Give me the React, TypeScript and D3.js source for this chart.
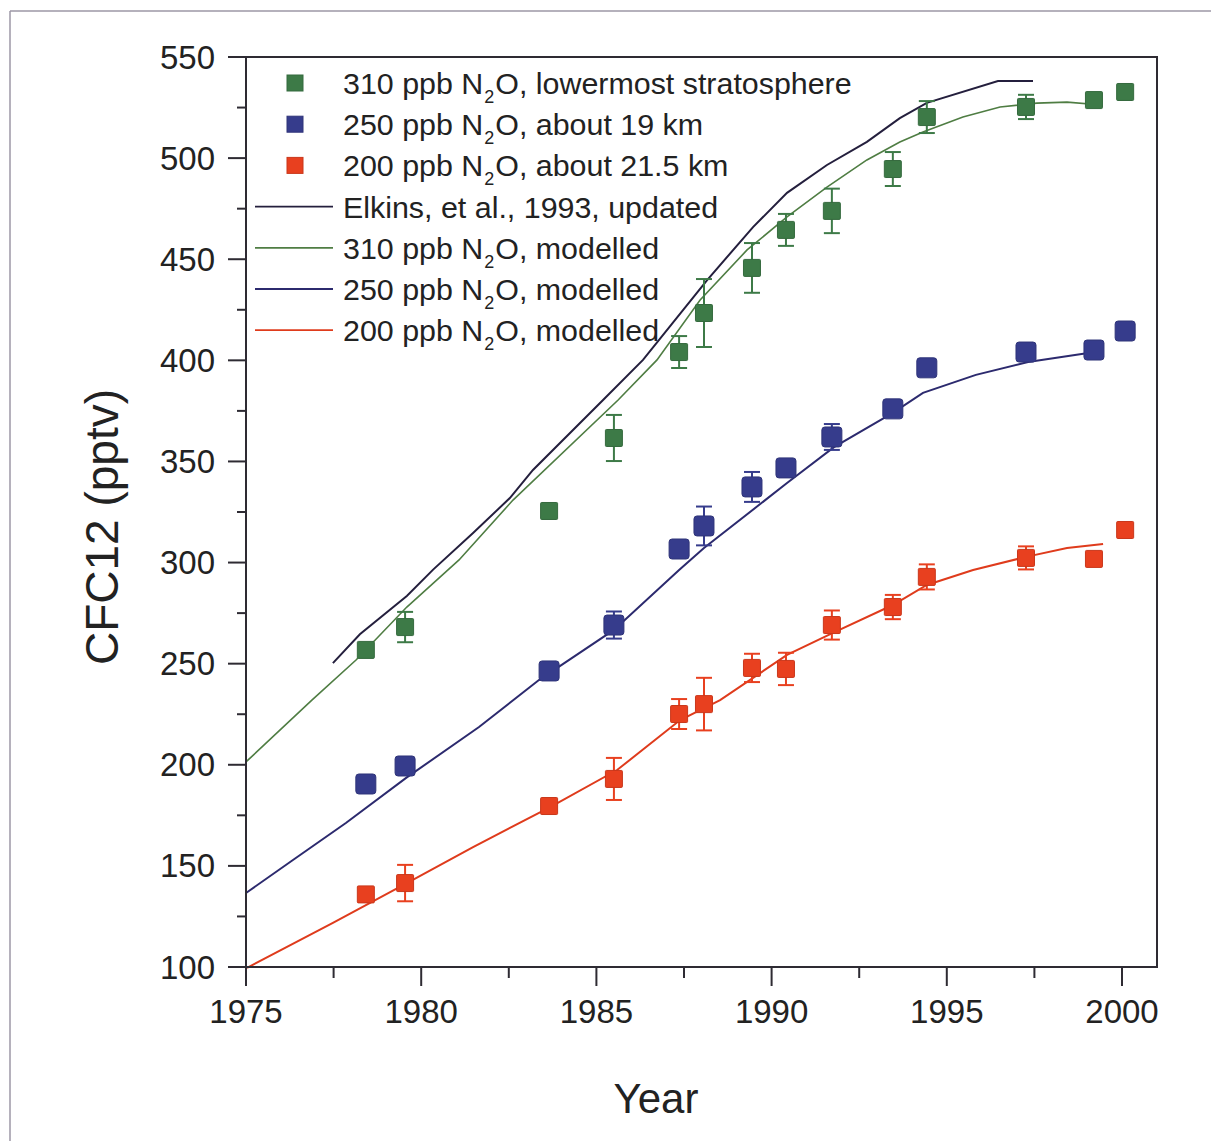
import React from 'react';
import * as d3 from 'd3';

// measured points (year, pptv, error)
const obsYears = [1978.42, 1979.54, 1983.65, 1985.5, 1987.36, 1988.07, 1989.44, 1990.41, 1991.72, 1993.46, 1994.43, 1997.26, 1999.2, 2000.09];
const green310 = [256.8, 268.1, 325.5, 361.6, 404.1, 423.4, 445.7, 464.5, 473.9, 494.6, 520.3, 525.3, 528.7, 532.7];
const green310Err = [0, 7.5, 0, 11.4, 7.9, 16.8, 12.3, 7.9, 11, 8.4, 7.9, 6, 0, 0];
const blue250 = [190.5, 199.4, 246.4, 269.1, 306.7, 318.1, 337.4, 346.8, 362.1, 376.0, 396.3, 404.1, 405.1, 414.5];
const blue250Err = [0, 0, 0, 6.7, 0, 9.6, 7.4, 0, 6.4, 0, 0, 0, 0, 0];
const red200 = [135.9, 141.5, 179.6, 193.0, 225.1, 230.0, 247.9, 247.4, 269.1, 278.0, 292.9, 302.3, 301.8, 316.1];
const red200Err = [0, 9, 0, 10.4, 7.4, 13, 7, 8, 7.2, 6, 6.2, 5.7, 0, 0];

// model / reference curves
const elkinsYears = [1977.48, 1978.25, 1979.59, 1980.34, 1981.48, 1982.53, 1983.19, 1985.19, 1986.33, 1988.16, 1989.47, 1990.44, 1991.58, 1992.72, 1993.66, 1994.43, 1996.46, 1997.46];
const elkinsVals = [250.3, 264.5, 283.5, 296.5, 314.6, 331.9, 345.8, 380.4, 400.2, 439.7, 465.9, 482.8, 496.6, 508.0, 519.8, 527.3, 538.1, 538.1];
const mod310Years = [1975.0, 1976.88, 1978.14, 1979.59, 1981.08, 1982.62, 1985.62, 1986.73, 1987.96, 1989.3, 1990.44, 1991.58, 1992.72, 1993.66, 1994.32, 1995.46, 1996.52, 1997.57, 1998.43, 1999.43];
const mod310Vals = [201.4, 232.0, 251.8, 278.0, 301.3, 330.9, 380.4, 400.2, 429.8, 454.6, 470.9, 485.7, 499.1, 508.0, 512.9, 520.3, 525.3, 527.2, 527.7, 526.3];
const mod250Years = [1975, 1976.34, 1977.85, 1979.57, 1981.65, 1983.36, 1985.5, 1987.36, 1988.07, 1990.44, 1991.78, 1993.46, 1994.32, 1995.83, 1997.32, 1999.23];
const mod250Vals = [136.6, 152.9, 171.2, 193.5, 218.7, 241.9, 266.7, 296.3, 307.2, 339.3, 357.1, 374.0, 383.9, 392.8, 399.2, 404.1];
const mod200Years = [1975.03, 1977.48, 1979.59, 1981.48, 1983.68, 1985.59, 1987.39, 1988.53, 1990.44, 1991.75, 1993.46, 1994.43, 1995.75, 1997.26, 1998.43, 1999.46];
const mod200Vals = [99.6, 121.8, 141.5, 159.3, 179.1, 197.4, 222.1, 232.0, 254.3, 265.2, 279.0, 288.9, 296.3, 302.8, 307.2, 309.2];

const yTicks = [100, 150, 200, 250, 300, 350, 400, 450, 500, 550];
const yMinor = [125, 175, 225, 275, 325, 375, 425, 475, 525];
const xTicks = [1975, 1980, 1985, 1990, 1995, 2000];
const xMinor = [1977.5, 1982.5, 1987.5, 1992.5, 1997.5];

const legendItems = [
  { kind: 'sq', color: '#3d7a47', pre: '310 ppb N', post: 'O, lowermost stratosphere' },
  { kind: 'sq', color: '#363c8c', pre: '250 ppb N', post: 'O, about 19 km' },
  { kind: 'sq', color: '#e8401f', pre: '200 ppb N', post: 'O, about 21.5 km' },
  { kind: 'ln', color: '#241f3d', pre: 'Elkins, et al., 1993, updated', post: '' },
  { kind: 'ln', color: '#4f7d43', pre: '310 ppb N', post: 'O, modelled' },
  { kind: 'ln', color: '#2c2a6e', pre: '250 ppb N', post: 'O, modelled' },
  { kind: 'ln', color: '#df3b1c', pre: '200 ppb N', post: 'O, modelled' },
];

const W = 1211, H = 1141;
const m = { left: 246, top: 57, right: 1157, bottom: 967 };
const font = '"Liberation Sans", Arial, Helvetica, sans-serif';
const axisCol = '#2e2b33';

const x = d3.scaleLinear().domain([1975, 2001]).range([m.left, m.right + 0.04]);
const y = d3.scaleLinear().domain([100, 550]).range([m.bottom, m.top]);

const mkLine = (xs: number[], vs: number[]) =>
  d3.line<number>().x((_, i) => x(xs[i])).y(d => y(d))(vs) || '';

const Series = ({ vals, errs, color, size, rx }: { vals: number[]; errs: number[]; color: string; size: number; rx: number }) => (
  <g>
    {vals.map((v, i) => {
      const cx = x(obsYears[i]);
      const cy = y(v);
      const e = errs[i];
      return (
        <g key={i}>
          {e > 0 && (
            <g stroke={color} strokeWidth={2}>
              <line x1={cx} x2={cx} y1={y(v - e)} y2={y(v + e)} />
              <line x1={cx - 8} x2={cx + 8} y1={y(v - e)} y2={y(v - e)} />
              <line x1={cx - 8} x2={cx + 8} y1={y(v + e)} y2={y(v + e)} />
            </g>
          )}
          <rect x={cx - size / 2} y={cy - size / 2} width={size} height={size} rx={rx}
            fill={color} stroke={d3.color(color)!.darker(0.4).toString()} strokeWidth={1} />
        </g>
      );
    })}
  </g>
);

export default function App() {
  return (
    <svg width={W} height={H} style={{ position: 'absolute', left: 0, top: 0, background: '#fff' }} fontFamily={font}>
      {/* outer page border */}
      <line x1={10} x2={W} y1={11} y2={11} stroke="#9c97a6" strokeWidth={1.5} />
      <line x1={10} x2={10} y1={11} y2={H} stroke="#9c97a6" strokeWidth={1.5} />

      {/* curves */}
      <path d={mkLine(mod200Years, mod200Vals)} fill="none" stroke="#df3b1c" strokeWidth={2} />
      <path d={mkLine(mod250Years, mod250Vals)} fill="none" stroke="#2c2a6e" strokeWidth={2} />
      <path d={mkLine(mod310Years, mod310Vals)} fill="none" stroke="#4f7d43" strokeWidth={1.6} />
      <path d={mkLine(elkinsYears, elkinsVals)} fill="none" stroke="#241f3d" strokeWidth={2} />

      <Series vals={red200} errs={red200Err} color="#e8401f" size={17} rx={1} />
      <Series vals={blue250} errs={blue250Err} color="#363c8c" size={20} rx={3} />
      <Series vals={green310} errs={green310Err} color="#3d7a47" size={17} rx={1} />

      {/* frame */}
      <rect x={m.left} y={m.top} width={m.right - m.left} height={m.bottom - m.top} fill="none" stroke={axisCol} strokeWidth={2} />

      {/* y axis */}
      {yTicks.map(t => (
        <g key={t}>
          <line x1={228} x2={m.left} y1={y(t)} y2={y(t)} stroke={axisCol} strokeWidth={2} />
          <text x={215} y={y(t)} dy="0.35em" textAnchor="end" fontSize={33} fill="#222">{t}</text>
        </g>
      ))}
      {yMinor.map(t => (
        <line key={t} x1={237} x2={m.left} y1={y(t)} y2={y(t)} stroke={axisCol} strokeWidth={2} />
      ))}

      {/* x axis */}
      {xTicks.map(t => (
        <g key={t}>
          <line x1={x(t)} x2={x(t)} y1={m.bottom} y2={986} stroke={axisCol} strokeWidth={2} />
          <text x={x(t)} y={1023} textAnchor="middle" fontSize={33} fill="#222">{t}</text>
        </g>
      ))}
      {xMinor.map(t => (
        <line key={t} x1={x(t)} x2={x(t)} y1={m.bottom} y2={978} stroke={axisCol} strokeWidth={2} />
      ))}

      <text x={656} y={1113} textAnchor="middle" fontSize={42} fill="#222">Year</text>
      <text transform="translate(118,527) rotate(-90)" textAnchor="middle" fontSize={46} fill="#222">CFC12 (pptv)</text>

      {/* legend */}
      {legendItems.map((it, i) => {
        const cy = 83 + i * 41.2;
        return (
          <g key={i}>
            {it.kind === 'sq'
              ? <rect x={287} y={cy - 8} width={16} height={16} fill={it.color} stroke={d3.color(it.color)!.darker(0.4).toString()} strokeWidth={1} />
              : <line x1={255} x2={333} y1={cy} y2={cy} stroke={it.color} strokeWidth={1.8} />}
            <text x={343} y={cy + 11} fontSize={30.4} fill="#222">
              {it.pre}
              {it.post && <tspan fontSize={18} dx={1} dy={9}>2</tspan>}
              {it.post && <tspan dx={1} dy={-9}>{it.post}</tspan>}
            </text>
          </g>
        );
      })}
    </svg>
  );
}
